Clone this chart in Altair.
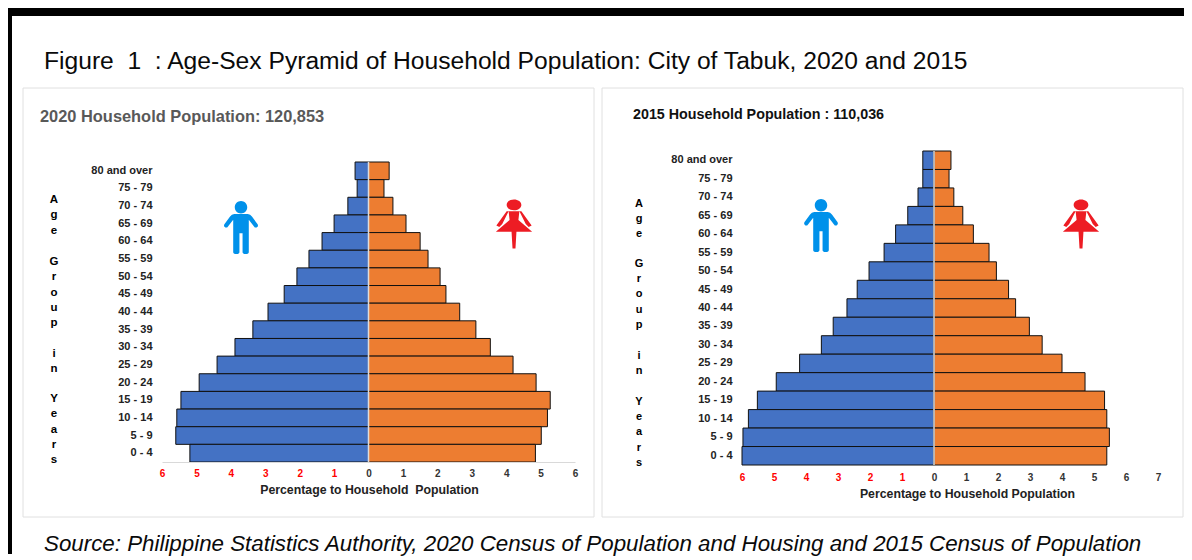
import altair as alt
import pandas as pd

AGES = ["80 and over", "75 - 79", "70 - 74", "65 - 69", "60 - 64", "55 - 59", "50 - 54", "45 - 49",
        "40 - 44", "35 - 39", "30 - 34", "25 - 29", "20 - 24", "15 - 19", "10 - 14", "5 - 9", "0 - 4"]
MALE_2020 = [0.39, 0.33, 0.60, 1.00, 1.35, 1.73, 2.08, 2.45, 2.92, 3.36, 3.88, 4.40, 4.92, 5.45, 5.57, 5.60, 5.19]
FEMALE_2020 = [0.60, 0.45, 0.71, 1.09, 1.50, 1.73, 2.08, 2.25, 2.65, 3.12, 3.54, 4.20, 4.87, 5.28, 5.20, 5.02, 4.85]
MALE_2015 = [0.35, 0.35, 0.50, 0.82, 1.20, 1.56, 2.03, 2.40, 2.72, 3.15, 3.52, 4.20, 4.93, 5.52, 5.80, 5.97, 6.00]
FEMALE_2015 = [0.53, 0.47, 0.62, 0.90, 1.23, 1.72, 1.95, 2.33, 2.55, 2.98, 3.38, 4.00, 4.72, 5.33, 5.40, 5.48, 5.40]

FIG_TITLE = "Figure\u00a0\u00a01\u00a0\u00a0: Age-Sex Pyramid of Household Population: City of Tabuk, 2020 and 2015"
SOURCE = "Source: Philippine Statistics Authority, 2020 Census of Population and Housing and 2015 Census of Population"
X_TITLE_2020 = "Percentage to Household\u00a0\u00a0Population"
X_TITLE_2015 = "Percentage to Household Population"
AXIS_WORDS = ["A\ng\ne", "G\nr\no\nu\np", "i\nn", "Y\ne\na\nr\ns"]
FONT = "Liberation Sans"

MAN = ("M-.12,-.40 A.12,.12 0 1 1 .12,-.40 A.12,.12 0 1 1 -.12,-.40 Z "
       "M-.13,-.27 L.13,-.27 Q.18,-.27 .21,-.22 L.32,-.07 Q.34,-.03 .30,-.01 Q.27,0 .25,-.03 L.15,-.16 "
       "L.15,.46 Q.15,.5 .09,.5 Q.03,.5 .03,.46 L.03,.10 L-.03,.10 L-.03,.46 Q-.03,.5 -.09,.5 Q-.15,.5 -.15,.46 "
       "L-.15,-.16 L-.25,-.03 Q-.27,0 -.30,-.01 Q-.34,-.03 -.32,-.07 L-.21,-.22 Q-.18,-.27 -.13,-.27 Z")
WOMAN = ("M-.15,-.39 A.15,.11 0 1 1 .15,-.39 A.15,.11 0 1 1 -.15,-.39 Z "
         "M-.11,-.26 L.11,-.26 L.09,-.08 L.37,.16 L.05,.16 L.03,.5 L-.03,.5 L-.05,.16 L-.37,.16 L-.09,-.08 Z "
         "M-.15,-.26 L-.11,-.26 L-.24,.0 L-.30,.06 L-.36,.03 Z M.15,-.26 L.11,-.26 L.24,.0 L.30,.06 L.36,.03 Z")

one = pd.DataFrame({"a": [0]})


def text(s, x, y, size, weight="normal", color="#000000", align="left", style="normal", **kw):
    return alt.Chart(pd.DataFrame({"t": [s]})).mark_text(
        font=FONT, fontSize=size, fontWeight=weight, fontStyle=style, color=color, align=align,
        baseline="middle", **kw
    ).encode(text="t:N", x=alt.value(x), y=alt.value(y))


def box(x, x2, y, y2, **kw):
    return alt.Chart(one).mark_rect(**kw).encode(
        x=alt.value(x), x2=alt.value(x2), y=alt.value(y), y2=alt.value(y2))


def icon(path, x, y, h, color):
    return alt.Chart(one).mark_point(shape=path, size=4 * h * h, filled=True, color=color, opacity=1, strokeWidth=0).encode(
        x=alt.value(x), y=alt.value(y))


def pyramid(male, female, dom, ticks, band_range, domain_line, x_title, title_x, title_y, label_pad):
    df = pd.DataFrame({
        "age": AGES * 2,
        "sex": ["Male"] * 17 + ["Female"] * 17,
        "pct": [-v for v in male] + list(female),
    })
    x_axis = alt.Axis(values=ticks, grid=False, ticks=False, domain=domain_line, domainColor="#d9d9d9",
                      labelExpr="abs(datum.value)", zindex=1, labelFlush=False, labelOverlap=False, labelBound=False,
                      labelSeparation=0, tickCount=len(ticks),
                      labelColor=alt.expr("datum.value < 0 ? '#ff0000' : '#333333'"),
                      labelFont=FONT, labelFontWeight="bold", labelFontSize=10, labelPadding=label_pad,
                      labelAngle=0, title=x_title,
                      titleFont=FONT, titleFontWeight="bold", titleFontSize=12.3, titleColor="#222222",
                      titleX=title_x, titleY=title_y, titleBaseline="middle")
    x_scale = alt.Scale(domain=dom, nice=False, zero=False)
    bars = alt.Chart(df).mark_bar(stroke="#111111", strokeWidth=1).encode(
        x=alt.X("pct:Q", stack=None, scale=x_scale, axis=x_axis),
        y=alt.Y("age:N", sort=AGES,
                scale=alt.Scale(domain=AGES, range=band_range, paddingInner=0, paddingOuter=0),
                axis=alt.Axis(ticks=False, domain=False, grid=False, labelPadding=10, labelFont=FONT, zindex=1,
                              labelFontWeight="bold", labelFontSize=11, labelColor="#222222", title=None)),
        color=alt.Color("sex:N", scale=alt.Scale(domain=["Male", "Female"], range=["#4472C4", "#ED7D31"]), legend=None),
    )
    zero = alt.Chart(pd.DataFrame({"z": [0]})).mark_rule(
        color="#dddddd", strokeWidth=1.5).encode(
        x=alt.X("z:Q", scale=x_scale, axis=x_axis), y=alt.value(band_range[0]), y2=alt.value(band_range[1]))
    return bars, zero


def age_axis(x, ys, size, lh, ox):
    return [text(w, x - ox, y - TOP, size, weight="bold", align="center", lineBreak="\n", lineHeight=lh)
            for w, y in zip(AXIS_WORDS, ys)]


# panel origins on the page: left plot (162, 151), right plot (742, 151)
LX, RX, TOP = 162, 742, 151

l_bars, l_zero = pyramid(MALE_2020, FEMALE_2020, [-6, 6], list(range(-6, 7)), [11, 311], True, X_TITLE_2020, 207, 27, 6)
r_bars, r_zero = pyramid(MALE_2015, FEMALE_2015, [-6, 7], list(range(-6, 8)), [0, 314], False, X_TITLE_2015, 225, 28, 7)

left = alt.layer(
    box(8 - LX, 1184 - LX, 8 - TOP, 16 - TOP, fill="#000000"),
    box(8 - LX, 12 - LX, 8 - TOP, 554 - TOP, fill="#000000"),
    box(23 - LX, 594 - LX, 88 - TOP, 517 - TOP, fill="#ffffff", stroke="#e0e0e0", strokeWidth=1),
    text(FIG_TITLE, 44 - LX, 62 - TOP, 24.64, color="#0a0a0a"),
    text(SOURCE, 44 - LX, 544 - TOP, 22.34, style="italic", color="#0a0a0a"),
    text("2020 Household Population: 120,853", 40 - LX, 117 - TOP, 16.4, weight="bold", color="#595959"),
    *age_axis(54, [200, 262, 354, 399], 11.5, 15.3, LX),
    icon(MAN, 241 - LX, 228 - TOP, 52, "#0091EA"),
    icon(WOMAN, 514 - LX, 224 - TOP, 49, "#ED1C24"),
    l_bars,
    l_zero,
).properties(width=575 - 162, height=311)

right = alt.layer(
    box(602 - RX, 1183 - RX, 88 - TOP, 517 - TOP, fill="#ffffff", stroke="#e0e0e0", strokeWidth=1),
    text("2015 Household Population : 110,036", 633 - RX, 115 - TOP, 14.3, weight="bold", color="#111111"),
    *age_axis(639, [204, 264, 356, 402], 11, 15.2, RX),
    icon(MAN, 821 - RX, 226 - TOP, 52, "#0091EA"),
    icon(WOMAN, 1081 - RX, 224 - TOP, 49, "#ED1C24"),
    r_bars,
    r_zero,
).properties(width=1158 - 742, height=314)

chart = alt.hconcat(left, right, spacing=742 - 575, bounds="flush").resolve_scale(color="shared").properties(
    padding=0, background="#ffffff"
).configure_view(stroke=None).configure_axis(labelOverlap=False)

chart.save("out.html", embed_options={"renderer": "svg", "actions": False})
